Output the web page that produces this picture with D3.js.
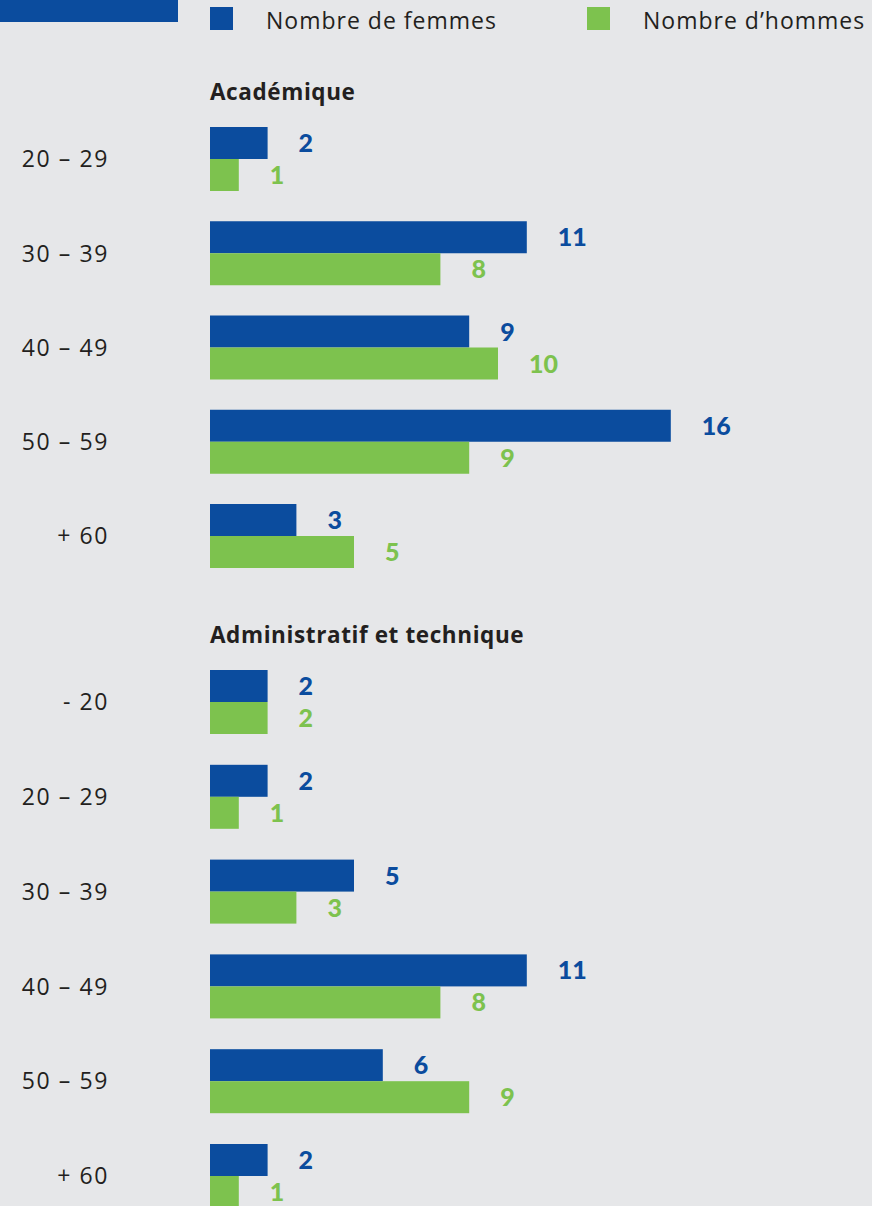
<!DOCTYPE html>
<html>
<head>
<meta charset="utf-8">
<script src="https://cdn.jsdelivr.net/npm/d3@7"></script>
<style>
  html, body { margin: 0; padding: 0; background: #e6e7e9; }
  svg { display: block; }
</style>
</head>
<body>
<svg id="chart" width="872" height="1206"></svg>
<script>
// ---- Data ----
const seriesNames = ["Nombre de femmes", "Nombre d\u2019hommes"];
const sectionTitles = ["Acad\u00e9mique", "Administratif et technique"];

const academicCategories = ["20 \u2013 29", "30 \u2013 39", "40 \u2013 49", "50 \u2013 59", "+ 60"];
const academicWomen = [2, 11, 9, 16, 3];
const academicMen   = [1, 8, 10, 9, 5];

const adminCategories = ["- 20", "20 \u2013 29", "30 \u2013 39", "40 \u2013 49", "50 \u2013 59", "+ 60"];
const adminWomen = [2, 2, 5, 11, 6, 2];
const adminMen   = [2, 1, 3, 8, 9, 1];

// ---- Styles / layout ----
const colors = ["#0b4c9e", "#7dc24e"];
const bg = "#e6e7e9";
const textColor = "#231f20";
const textFont = "'Open Sans', sans-serif";
const x0 = 210;
const unitPx = 28.8;
const barH = 32;

const svg = d3.select("#chart");
svg.append("rect").attr("width", 872).attr("height", 1206).attr("fill", bg);

// decorative top-left bar
svg.append("rect").attr("x", 0).attr("y", 0).attr("width", 178).attr("height", 22).attr("fill", colors[0]);

const x = d3.scaleLinear().domain([0, 1]).range([x0, x0 + unitPx]);

// legend
const legendX = [210, 587];
seriesNames.forEach((name, i) => {
  const g = svg.append("g").attr("transform", `translate(${legendX[i]},0)`);
  g.append("rect").attr("x", 0).attr("y", 7).attr("width", 23).attr("height", 23).attr("fill", colors[i]);
  g.append("text").attr("x", 56).attr("y", 29)
    .attr("font-family", textFont).attr("font-size", 23).attr("font-weight", 400)
    .attr("letter-spacing", 1).attr("fill", textColor).text(name);
});

function drawSection(title, titleY, cats, women, men, firstTop, step) {
  svg.append("text").attr("x", x0).attr("y", titleY)
    .attr("font-family", textFont).attr("font-size", 22.5).attr("font-weight", 700)
    .attr("letter-spacing", 0.6).attr("fill", textColor).text(title);

  const p = (step - 2 * barH) / step;
  const n = cats.length;
  const start = firstTop - step * p / 2;
  const y = d3.scaleBand().domain(cats).range([start, start + n * step]).paddingInner(p).paddingOuter(p / 2);
  const ys = d3.scaleBand().domain([0, 1]).range([0, y.bandwidth()]);

  // category axis (labels only)
  const axis = d3.axisLeft(y).tickSize(0).tickPadding(0);
  const ag = svg.append("g").attr("transform", "translate(109,0)").call(axis);
  ag.select(".domain").remove();
  ag.selectAll("text")
    .attr("font-family", textFont).attr("font-size", 23).attr("font-weight", 400)
    .attr("letter-spacing", 1.6).attr("fill", textColor).attr("dy", "0.36em");

  const rows = cats.map((c, i) => ({ c, vals: [women[i], men[i]] }));
  const g = svg.append("g");
  rows.forEach(r => {
    r.vals.forEach((v, s) => {
      const top = y(r.c) + ys(s);
      g.append("rect").attr("x", x(0)).attr("y", top)
        .attr("width", x(v) - x(0)).attr("height", ys.bandwidth()).attr("fill", colors[s]);
      g.append("text").attr("x", x(v) + 31).attr("y", top + ys.bandwidth() / 2)
        .attr("dy", "0.36em")
        .attr("font-family", "Lato, sans-serif").attr("font-size", 25).attr("font-weight", 900)
        .attr("fill", colors[s]).text(v);
    });
  });
}

drawSection(sectionTitles[0], 100, academicCategories, academicWomen, academicMen, 127, 94.25);
drawSection(sectionTitles[1], 643, adminCategories, adminWomen, adminMen, 670, 94.8);
</script>
</body>
</html>
